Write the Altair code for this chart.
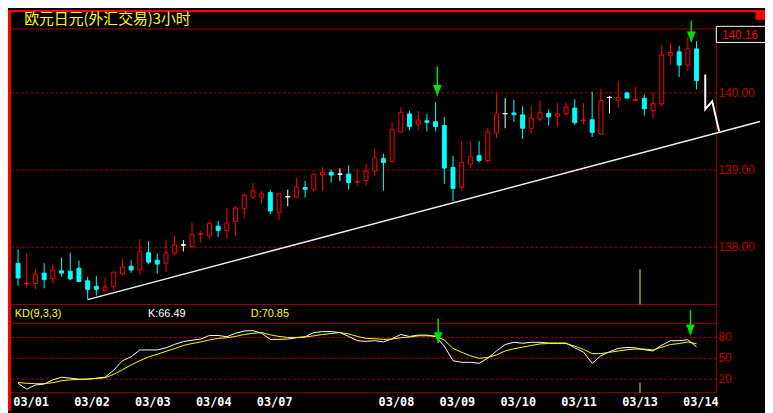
import altair as alt
import pandas as pd
import numpy as np

# ---------------- data ----------------
opens = [137.790, 137.525, 137.530, 137.664, 137.592, 137.693, 137.689, 137.727, 137.564, 137.492,
         137.434, 137.492, 137.655, 137.752, 137.706, 137.928, 137.831, 137.794, 137.924, 138.029,
         138.007, 138.168, 138.146, 138.272, 138.214, 138.335, 138.498, 138.649, 138.649, 138.708,
         138.448, 138.654, 138.649, 138.775, 138.750, 138.938, 138.972, 138.947, 138.947, 138.845,
         138.863, 138.989, 139.148, 139.114, 139.492, 139.727, 139.592, 139.639, 139.626, 139.576,
         139.035, 138.775, 139.077, 139.186, 139.123, 139.479, 139.731, 139.740, 139.715, 139.542,
         139.660, 139.736, 139.698, 139.731, 139.803, 139.641, 139.652, 139.467, 139.941, 139.907,
         140.000, 139.905, 139.928, 139.774, 139.857, 140.491, 140.532, 140.360, 140.570]
highs = [137.970, 137.928, 137.706, 137.790, 137.777, 137.865, 137.928, 137.828, 137.614, 137.626,
         137.601, 137.680, 137.853, 137.831, 138.104, 138.079, 137.916, 138.092, 138.155, 138.092,
         138.318, 138.214, 138.340, 138.343, 138.507, 138.532, 138.704, 138.834, 138.733, 138.746,
         138.704, 138.746, 138.897, 138.859, 138.947, 139.035, 139.010, 139.023, 139.060, 138.998,
         139.086, 139.287, 139.211, 139.626, 139.815, 139.765, 139.765, 139.727, 139.878, 139.689,
         139.186, 139.375, 139.375, 139.375, 139.551, 140.004, 139.932, 139.912, 139.828, 139.840,
         139.899, 139.786, 139.865, 139.878, 139.916, 139.865, 140.016, 140.054, 139.962, 140.155,
         140.016, 140.079, 139.975, 140.004, 140.624, 140.649, 140.611, 140.725, 140.670]
lows = [137.501, 137.479, 137.454, 137.467, 137.530, 137.618, 137.572, 137.555, 137.321, 137.375,
        137.434, 137.438, 137.635, 137.668, 137.643, 137.781, 137.655, 137.677, 137.894, 137.945,
        138.000, 138.058, 138.108, 138.133, 138.108, 138.146, 138.372, 138.624, 138.566, 138.431,
        138.347, 138.532, 138.633, 138.642, 138.721, 138.733, 138.834, 138.859, 138.746, 138.796,
        138.796, 138.922, 138.733, 139.098, 139.479, 139.513, 139.513, 139.501, 139.501, 138.821,
        138.599, 138.725, 139.026, 139.098, 139.098, 139.416, 139.542, 139.626, 139.404, 139.479,
        139.626, 139.576, 139.555, 139.706, 139.585, 139.592, 139.429, 139.454, 139.731, 139.806,
        139.932, 139.891, 139.706, 139.668, 139.828, 140.360, 140.205, 140.284, 140.045]
closes = [137.601, 137.530, 137.648, 137.580, 137.702, 137.664, 137.589, 137.555, 137.454, 137.454,
          137.484, 137.677, 137.740, 137.706, 137.941, 137.806, 137.781, 137.928, 138.029, 138.029,
          138.167, 138.172, 138.306, 138.218, 138.314, 138.507, 138.670, 138.733, 138.692, 138.469,
          138.692, 138.654, 138.784, 138.750, 138.947, 138.969, 138.935, 138.947, 138.838, 138.849,
          138.985, 139.157, 139.098, 139.522, 139.748, 139.563, 139.648, 139.618, 139.563, 139.026,
          138.762, 139.098, 139.174, 139.123, 139.497, 139.727, 139.731, 139.718, 139.542, 139.673,
          139.748, 139.689, 139.727, 139.815, 139.614, 139.645, 139.488, 139.899, 139.941, 139.941,
          139.932, 139.909, 139.794, 139.862, 140.491, 140.523, 140.360, 140.570, 140.160]
k_line = [14.0, 5.6, 11.6, 13.0, 19.0, 22.8, 21.4, 20.0, 20.0, 21.4,
          22.8, 33.0, 46.5, 52.3, 62.0, 62.0, 62.0, 65.0, 70.0, 74.0,
          76.0, 77.7, 82.8, 82.8, 81.0, 86.0, 89.3, 89.8, 86.0, 77.2,
          77.2, 77.7, 79.5, 81.0, 87.0, 88.4, 88.4, 87.0, 81.4, 75.3,
          74.4, 75.3, 73.5, 78.1, 84.2, 81.4, 83.3, 83.3, 81.4, 67.4,
          46.5, 44.2, 44.2, 42.8, 50.2, 60.5, 69.8, 73.0, 71.6, 73.0,
          73.0, 72.0, 72.0, 72.0, 65.0, 59.0, 42.8, 53.5, 59.5, 64.2,
          65.6, 65.0, 62.3, 60.5, 68.8, 75.3, 75.3, 76.7, 66.49]
d_line = [15.3, 14.0, 13.5, 13.5, 15.0, 17.7, 19.0, 19.5, 20.0, 21.0,
          21.9, 27.0, 33.5, 40.5, 46.5, 52.0, 55.8, 60.0, 64.0, 68.4,
          71.2, 73.5, 76.3, 78.6, 79.5, 81.4, 84.2, 86.0, 87.0, 83.7,
          81.4, 80.0, 80.0, 80.5, 82.3, 84.2, 85.6, 87.0, 85.1, 81.4,
          78.6, 78.1, 77.2, 77.7, 79.5, 80.5, 82.3, 82.3, 81.9, 76.3,
          64.2, 58.6, 53.5, 50.0, 51.2, 54.9, 60.5, 63.7, 66.0, 68.4,
          70.7, 71.2, 71.2, 71.2, 67.4, 62.8, 56.7, 56.7, 58.6, 60.5,
          62.3, 63.3, 63.3, 61.9, 66.0, 69.8, 71.2, 73.5, 70.85]

date_labels = ["03/01", "03/02", "03/03", "03/04", "03/07", "03/08",
               "03/09", "03/10", "03/11", "03/13", "03/14"]
date_index = [1.5, 8.5, 15.5, 22.5, 29.5, 43.5, 50.5, 57.5, 64.5, 71.5, 78.5]
price_levels = [138.0, 139.0, 140.0]
kd_levels = [20, 50, 80]
trend_index = [8.0, 85.3]
trend_price = [137.32, 139.63]
proj_index = [79.0, 79.0, 79.8, 80.6]
proj_price = [140.24, 139.79, 139.89, 139.50]
arrow_index = [48.2, 77.4]
arrow_tip = [139.965, 140.658]
arrow_top = [140.343, 140.935]
kd_arrow_index = [48.3, 77.3]
kd_arrow_tip = [72.0, 83.2]
kd_arrow_top = [106.9, 119.5]
marker_index = [71.5]
title_text = "欧元日元(外汇交易)3小时"
kd_title = "KD(9,3,3)"

# ---------------- layout ----------------
W, H = 765, 405
SX, SY = W / 773, H / 413


def px(v):
    return v * SX


def py(v):
    return v * SY


RED = "#ff0000"
CYAN = "#00ffff"
DR = "#a00000"
AXT = "#c00000"
YEL = "#ffff00"
GRN = "#00e000"

xs = alt.Scale(domain=[-5.3 / 9, (773 - 5.3) / 9], nice=False, zero=False)
ps = alt.Scale(domain=[141.073 - 413 / 79.5, 141.073], nice=False, zero=False)
ks = alt.Scale(domain=[80 - (413 - 337.3) / 0.7167, 80 + 337.3 / 0.7167], nice=False, zero=False)

ONE = alt.Data(values=[{"z": 0}])

n = len(opens)
df = pd.DataFrame({"i": np.arange(n), "o": opens, "h": highs, "l": lows, "c": closes,
                   "kv": k_line, "dv": d_line})
o_arr = np.array(opens)
c_arr = np.array(closes)
df["kind"] = np.where(c_arr > o_arr, "up", np.where(c_arr < o_arr, "down", "flat"))

kinds = ["up", "down", "flat"]
stroke_scale = alt.Scale(domain=kinds, range=[RED, CYAN, "#ffffff"])
fill_scale = alt.Scale(domain=kinds, range=["#000000", CYAN, "#ffffff"])

X = alt.X("i:Q", scale=xs, axis=None)


def hline(yref, x0=3, x1=723.3, color=DR, dash=None, width=1):
    kw = dict(color=color, strokeWidth=width)
    if dash:
        kw["strokeDash"] = dash
    return alt.Chart(ONE).mark_rule(**kw).encode(
        x=alt.value(px(x0)), x2=alt.value(px(x1)), y=alt.value(py(yref)))


def rect(x0, x1, y0, y1, **kw):
    return alt.Chart(ONE).mark_rect(**kw).encode(
        x=alt.value(px(x0)), x2=alt.value(px(x1)), y=alt.value(py(y0)), y2=alt.value(py(y1)))


def label(text, xref, yref, color, size, font="Liberation Sans", align="left", weight="normal"):
    return alt.Chart(ONE).mark_text(text=text, color=color, fontSize=size, font=font,
                                    align=align, baseline="middle", fontWeight=weight).encode(
        x=alt.value(px(xref)), y=alt.value(py(yref)))


layers = []

# frame
layers.append(rect(0, 3, 0, 413, color=RED))
layers.append(rect(0, 773, 0, 2.3, color=RED))
layers.append(rect(763.3, 773, 0, 10, color=RED))
for yy in [19.3, 303.3, 322.7, 394.3]:
    layers.append(hline(yy))
layers.append(alt.Chart(ONE).mark_rule(color=DR, strokeWidth=1).encode(
    x=alt.value(px(723.3)), y=alt.value(py(17)), y2=alt.value(py(394.3))))

# price grid + labels
pg = pd.DataFrame({"p": price_levels, "lbl": [f"{v:.2f}" for v in price_levels]})
layers.append(alt.Chart(pg).mark_rule(color=DR, strokeDash=[3, 2], strokeWidth=1).encode(
    y=alt.Y("p:Q", scale=ps, axis=None), x=alt.value(px(3)), x2=alt.value(px(723.3))))
layers.append(alt.Chart(pg).mark_text(align="left", baseline="middle", color=AXT, fontSize=12,
                                      font="Liberation Sans").encode(
    y=alt.Y("p:Q", scale=ps, axis=None), x=alt.value(px(725.5)), text="lbl:N"))

# KD grid + labels
kg = pd.DataFrame({"v": kd_levels, "lbl": [str(v) for v in kd_levels]})
layers.append(alt.Chart(kg).mark_rule(color=DR, strokeDash=[3, 2], strokeWidth=1).encode(
    y=alt.Y("v:Q", scale=ks, axis=None), x=alt.value(px(3)), x2=alt.value(px(723.3))))
layers.append(alt.Chart(kg).mark_text(align="left", baseline="middle", color=AXT, fontSize=12,
                                      font="Liberation Sans").encode(
    y=alt.Y("v:Q", scale=ks, axis=None), x=alt.value(px(725.5)), text="lbl:N"))

# yellow session marker
mk = pd.DataFrame({"i": marker_index})
layers.append(alt.Chart(mk).mark_rule(color=YEL, strokeWidth=1).encode(
    x=X, y=alt.value(py(267)), y2=alt.value(py(303.3))))
layers.append(alt.Chart(mk).mark_rule(color=YEL, strokeWidth=1).encode(
    x=X, y=alt.value(py(384)), y2=alt.value(py(394.3))))

# trend line
td = pd.DataFrame({"i": trend_index, "p": trend_price})
layers.append(alt.Chart(td).mark_line(color="#eeeeee", strokeWidth=1.5, clip=False).encode(
    x=X, y=alt.Y("p:Q", scale=ps, axis=None)))

# candles
base = alt.Chart(df)
layers.append(base.mark_rule(strokeWidth=1).encode(
    x=X, y=alt.Y("l:Q", scale=ps, axis=None), y2="h:Q",
    color=alt.Color("kind:N", scale=stroke_scale, legend=None)))
layers.append(base.mark_bar(size=4, strokeWidth=1).encode(
    x=X, y=alt.Y("o:Q", scale=ps, axis=None), y2="c:Q",
    fill=alt.Fill("kind:N", scale=fill_scale, legend=None),
    stroke=alt.Stroke("kind:N", scale=stroke_scale, legend=None)))
layers.append(base.transform_filter("abs(datum.c - datum.o) < 0.01").mark_rule(
    strokeWidth=1, xOffset=-2.5, x2Offset=2.5).encode(
    x=X, x2="i:Q", y=alt.Y("c:Q", scale=ps, axis=None),
    color=alt.Color("kind:N", scale=stroke_scale, legend=None)))

# projection zigzag
pj = pd.DataFrame({"i": proj_index, "p": proj_price, "s": range(len(proj_index))})
layers.append(alt.Chart(pj).mark_line(color="#ffffff", strokeWidth=2).encode(
    x=X, y=alt.Y("p:Q", scale=ps, axis=None), order="s:Q"))

# price arrows
ARROW = "M-1,-2.4L1,-2.4L0,0Z"
pa = pd.DataFrame({"i": arrow_index, "tip": arrow_tip, "top": arrow_top})
layers.append(alt.Chart(pa).mark_rule(color=GRN, strokeWidth=1.5).encode(
    x=X, y=alt.Y("top:Q", scale=ps, axis=None), y2="tip:Q"))
layers.append(alt.Chart(pa).mark_point(shape=ARROW, size=81, filled=True, color=GRN,
                                       opacity=1, strokeWidth=0).encode(
    x=X, y=alt.Y("tip:Q", scale=ps, axis=None)))

# KD lines
layers.append(base.mark_line(color="#ffffff", strokeWidth=1).encode(
    x=X, y=alt.Y("kv:Q", scale=ks, axis=None)))
layers.append(base.mark_line(color=YEL, strokeWidth=1).encode(
    x=X, y=alt.Y("dv:Q", scale=ks, axis=None)))

# KD arrows
ka = pd.DataFrame({"i": kd_arrow_index, "tip": kd_arrow_tip, "top": kd_arrow_top})
layers.append(alt.Chart(ka).mark_rule(color=GRN, strokeWidth=1.5).encode(
    x=X, y=alt.Y("top:Q", scale=ks, axis=None), y2="tip:Q"))
layers.append(alt.Chart(ka).mark_point(shape=ARROW, size=81, filled=True, color=GRN,
                                       opacity=1, strokeWidth=0).encode(
    x=X, y=alt.Y("tip:Q", scale=ks, axis=None)))

# date labels
dl = pd.DataFrame({"i": date_index, "lbl": date_labels})
layers.append(alt.Chart(dl).mark_text(color="#ffffff", fontSize=12, font="DejaVu Sans Mono",
                                      fontWeight="bold", baseline="middle", align="center").encode(
    x=X, y=alt.value(py(403.5)), text="lbl:N"))

# last price box
layers.append(rect(723.3, 775, 16.7, 33.3, fill="#000000", stroke="#ffffff", strokeWidth=1))
layers.append(label(f"{closes[-1]:.2f}", 729, 25.5, RED, 12))

# titles
layers.append(label(title_text, 16.5, 9, YEL, 15, font="Noto Sans CJK SC"))
layers.append(label(kd_title, 7, 313, YEL, 11))
layers.append(label(f"K:{k_line[-1]:.2f}", 143, 313, "#ffffff", 11))
layers.append(label(f"D:{d_line[-1]:.2f}", 248, 313, YEL, 11))

chart = alt.layer(*layers).resolve_scale(y="independent").properties(
    width=W, height=H, background="#000000", padding=0,
    autosize=alt.AutoSizeParams(type="none"),
).configure_view(stroke=None)

chart.save("out.html", embed_options={"renderer": "svg", "actions": False})
